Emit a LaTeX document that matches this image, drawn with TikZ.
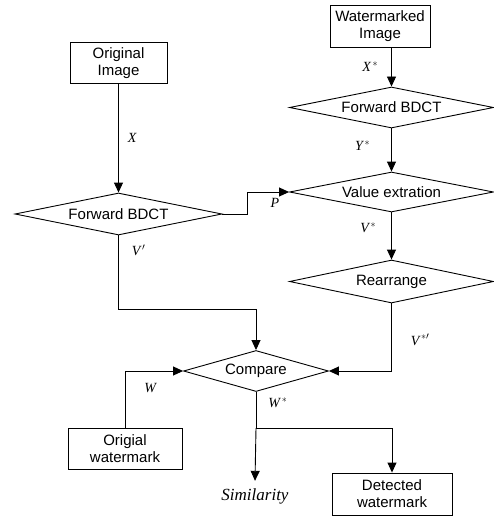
\documentclass[tikz,border=0pt]{standalone}
\usepackage{fontspec}
\setmainfont{Liberation Serif}
\setsansfont{Liberation Sans}
\usetikzlibrary{shapes.geometric,arrows.meta,positioning,calc}
\tikzset{
  every picture/.style={line width=0.9pt},
  fbox/.style={rectangle, draw, align=center, inner sep=0pt,
               font=\sffamily\fontsize{15}{17}\selectfont},
  fdia/.style={diamond, draw, inner sep=0pt, minimum width=204pt,
               minimum height=41pt,
               label={[font=\sffamily\fontsize{15}{17}\selectfont]center:#1}},
  flow/.style={-{Triangle[length=10pt,width=9pt]}},
  flab/.style={font=\itshape\fontsize{14}{16}\selectfont, inner sep=1pt},
}
\newcommand{\lbl}[2]{\textit{#1}$^{\,#2}$}

\begin{document}
\begin{tikzpicture}[x=1pt,y=-1pt]
  \useasboundingbox (0,0) rectangle (494,516);
  % left column
  \node[fbox, minimum width=97pt, minimum height=41pt] (origimg) at (118.5,63)
        {Original\\Image};
  \node[fdia={Forward BDCT}, minimum width=207pt, minimum height=42pt] (fbdct1)
        at (118.5,214) {};
  \node[fbox, minimum width=114pt, minimum height=41pt] (origwm) at (125,448.5)
        {Origial\\watermark};
  % right column
  \node[fbox, minimum width=100pt, minimum height=42pt] (wmimg) at (380,26)
        {Watermarked\\Image};
  \node[fdia={Forward BDCT}] (fbdct2) at (391.5,107.5) {};
  \node[fdia={Value extration}, minimum height=40pt] (valex) at (391.5,192) {};
  \node[fdia={Rearrange}, minimum height=43pt] (rearr) at (391.5,281.5) {};
  % bottom
  \node[fdia={Compare}, minimum width=145pt] (comp) at (256,371) {};
  \node[font=\itshape\fontsize{17}{19}\selectfont, inner sep=7pt] (simil)
        at (255,496) {Similarity};
  \node[fbox, minimum width=120pt, minimum height=42pt] (detwm) at (392,494)
        {Detected\\watermark};
  \coordinate (split) at (256,428);

  \draw[flow] (origimg) -- node[flab, right=8pt] {\textit{X}} (fbdct1);
  \draw[flow] (fbdct1.east) -- ++(25,0) |- node[flab, pos=0.83, below=5pt]
        {\textit{P}} (valex.west);
  \draw[flow] (fbdct1.south) -- node[flab, pos=0.2, right=12pt] {\lbl{V}{\prime}}
        ++(0,74) -| (comp.north);
  \draw[flow] (wmimg.south -| fbdct2.north) -- node[flab, left=12pt]
        {\lbl{X}{*}} (fbdct2.north);
  \draw[flow] (fbdct2) -- node[flab, left=20pt, pos=0.4] {\lbl{Y}{*}} (valex);
  \draw[flow] (valex) -- node[flab, left=14pt, pos=0.33] {\lbl{V}{*}} (rearr);
  \draw[flow] (rearr.south) |- node[flab, pos=0.27, right=18pt]
        {\lbl{V}{*\prime}} (comp.east);
  \draw[flow] (origwm.north) |- node[flab, pos=0.35, right=18pt] {\textit{W}}
        (comp.west);
  \draw (comp.south) -- node[flab, right=11pt, pos=0.3] {\lbl{W}{*}} (split);
  \draw[flow] (split) -- (simil.north);
  \draw[flow] (split) -| (detwm.north);
\end{tikzpicture}
\end{document}
